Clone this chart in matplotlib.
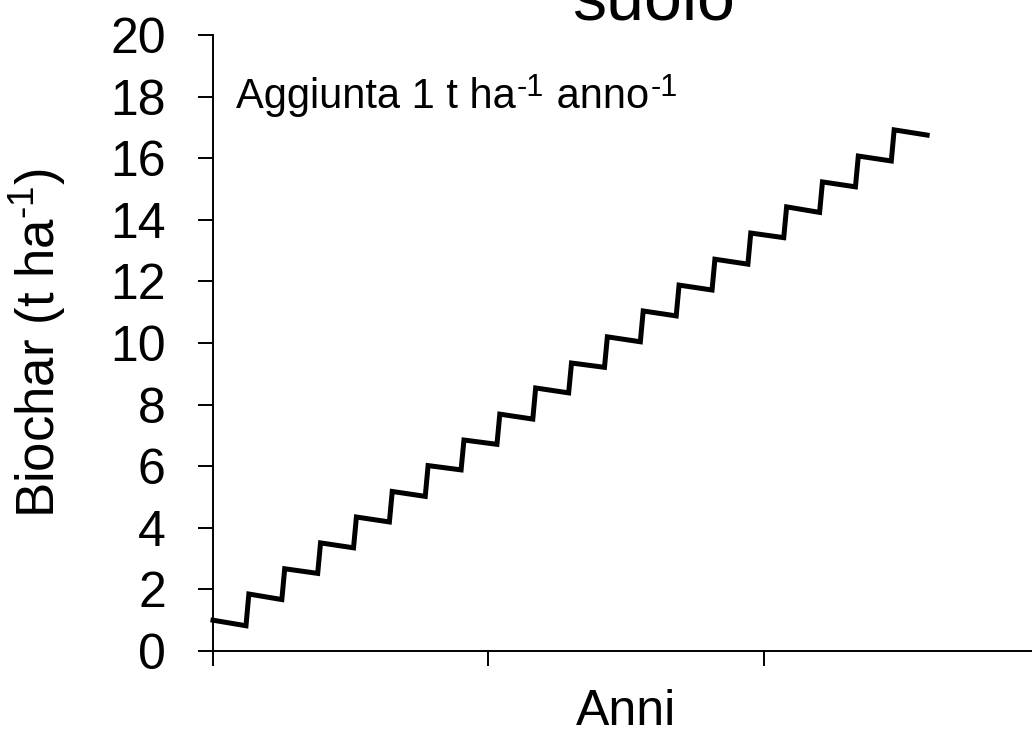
import matplotlib
matplotlib.use("Agg")
import matplotlib.pyplot as plt

plt.rcParams['font.family'] = ['Liberation Sans', 'DejaVu Sans']
plt.rcParams['mathtext.fontset'] = 'custom'
plt.rcParams['mathtext.rm'] = 'Liberation Sans'
plt.rcParams['mathtext.it'] = 'Liberation Sans'
plt.rcParams['mathtext.bf'] = 'Liberation Sans'

# biochar stock: value just after each yearly addition and just before the next one
peak_t = [0, 1, 2, 3, 4, 5, 6, 7, 8, 9, 10, 11, 12, 13, 14, 15, 16, 17, 18, 19]
peak_v = [1.00, 1.85, 2.67, 3.51, 4.35, 5.18, 6.02, 6.85, 7.69, 8.54,
          9.35, 10.20, 11.04, 11.88, 12.72, 13.57, 14.42, 15.23, 16.07, 16.92]
trough_t = [0.92, 1.92, 2.92, 3.92, 4.92, 5.92, 6.92, 7.92, 8.92, 9.92,
            10.92, 11.92, 12.92, 13.92, 14.92, 15.92, 16.92, 17.92, 18.92, 19.92]
trough_v = [0.82, 1.67, 2.52, 3.35, 4.19, 5.02, 5.88, 6.71, 7.53, 8.38,
            9.21, 10.04, 10.88, 11.72, 12.56, 13.42, 14.24, 15.07, 15.91, 16.75]

x_ticks = [0, 7.68, 15.36, 23.04]
y_ticks = [0, 2, 4, 6, 8, 10, 12, 14, 16, 18, 20]

# annotation pieces: (text, superscript?)
note_parts = [('Aggiunta 1 t ha', False), ('-1', True), (' anno', False), ('-1', True)]

xs, ys = [], []
for a, b, c, d in zip(peak_t, peak_v, trough_t, trough_v):
    xs += [a, c]
    ys += [b, d]

W, H = 1032, 733
fig = plt.figure(figsize=(W / 100, H / 100), dpi=100)
ax = fig.add_axes([213 / W, (H - 651) / H, (1039 - 213) / W, (651 - 35) / H])

ax.plot(xs, ys, color='black', lw=3.6, solid_joinstyle='miter', clip_on=False)

ax.set_xlim(0, 23.04)
ax.set_ylim(0, 20)
ax.set_xticks(x_ticks)
ax.set_xticklabels([])
ax.set_yticks(y_ticks)
ax.tick_params(axis='both', direction='out', length=11, width=1.4, color='black')
ax.tick_params(axis='y', labelsize=36, pad=23)
for s in ['top', 'right']:
    ax.spines[s].set_visible(False)
for s in ['left', 'bottom']:
    ax.spines[s].set_linewidth(1.4)
    ax.spines[s].set_color('black')

ax.set_xlabel('Anni', fontsize=36, va='baseline')
ax.xaxis.set_label_coords(0.5, (651 - 725) / 616)
ax.set_ylabel(r'Biochar (t ha$^{\text{-1}}$)', fontsize=38, va='baseline')
ax.yaxis.set_label_coords((55 - 213) / 826, 0.5)

# lay the annotation out piece by piece so the superscripts sit like the original
renderer = fig.canvas.get_renderer()
x_px = 236
for txt, sup in note_parts:
    if sup:
        t = fig.text(x_px / W, 1 - 96 / H, txt, fontsize=22, va='baseline', ha='left')
    else:
        t = fig.text(x_px / W, 1 - 108 / H, txt, fontsize=30, va='baseline', ha='left')
    x_px = t.get_window_extent(renderer).x1 + 1

fig.text(653 / W, 1 - 19 / H, 'suolo', fontsize=49, ha='center', va='baseline')

fig.savefig('out.png', dpi=100)
